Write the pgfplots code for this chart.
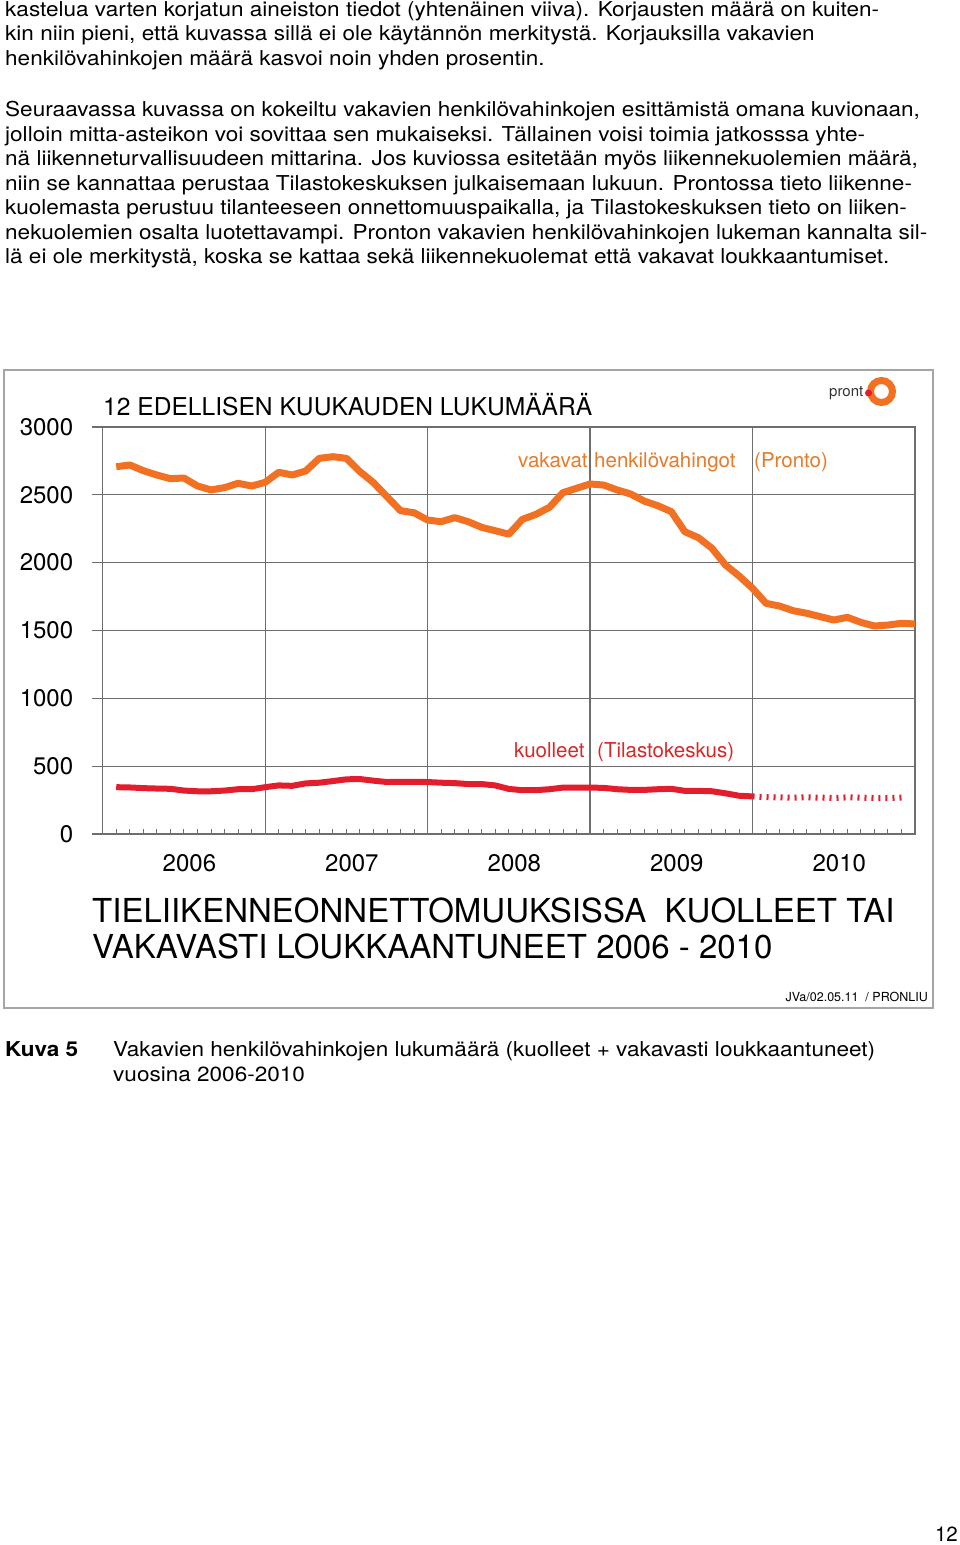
\documentclass[border=0pt]{standalone}
\usepackage{fontspec}
\setmainfont{TeX Gyre Heros}
\newfontfamily\bodyfont[FakeStretch=1.10]{TeX Gyre Heros}
\usepackage{pgfplots}
\pgfplotsset{compat=1.18}
\definecolor{orangeL}{RGB}{241,112,34}
\definecolor{orangeT}{RGB}{232,122,40}
\definecolor{redL}{RGB}{226,30,44}
\definecolor{redT}{RGB}{220,38,38}
\definecolor{gridc}{RGB}{110,110,110}
\definecolor{boxc}{RGB}{165,165,165}
\newcommand{\fs}[1]{\fontsize{#1}{#1}\selectfont}

\pgfplotstableread{
m v
1 2707
2 2720
3 2678
4 2646
5 2619
6 2624
7 2565
8 2536
9 2553
10 2585
11 2565
12 2592
13 2666
14 2646
15 2676
16 2769
17 2781
18 2769
19 2671
20 2590
21 2486
22 2383
23 2368
24 2314
25 2302
26 2332
27 2302
28 2260
29 2235
30 2210
31 2319
32 2356
33 2408
34 2516
35 2548
36 2580
37 2572
38 2536
39 2506
40 2454
41 2420
42 2376
43 2228
44 2184
45 2106
46 1983
47 1902
48 1811
49 1700
50 1680
51 1646
52 1627
53 1602
54 1577
55 1597
56 1560
57 1533
58 1540
59 1553
60 1548
}\pronto

\pgfplotstableread{
m v
1 345
2 343
3 338
4 335
5 333
6 320
7 315
8 315
9 320
10 330
11 330
12 345
13 358
14 355
15 373
16 378
17 390
18 403
19 405
20 393
21 383
22 385
23 385
24 383
25 378
26 375
27 368
28 368
29 358
30 332
31 323
32 323
33 330
34 342
35 342
36 342
37 340
38 330
39 325
40 325
41 330
42 333
43 318
44 318
45 315
46 300
47 282
48 277
}\kuolleet

\pgfplotstableread{
m v
48 277
49 272
50 270
51 268
52 270
53 268
54 265
55 270
56 268
57 265
58 265
59 268
}\kuolleetprel

\begin{document}
\begin{tikzpicture}[x=1pt,y=1pt]
\path[use as bounding box, fill=white] (0,0) rectangle (960,1545);
\coordinate (A) at (102.7,711);
\begin{scope}[shift={(0,1545)}, yscale=-1]
\begin{scope}[every node/.style={anchor=base west, inner sep=0pt, font=\bodyfont\fs{20.5}}]
\node at (5,16.7) {kastelua varten korjatun aineiston tiedot (yhtenäinen viiva). Korjausten määrä on kuiten-};
\node at (5,41) {kin niin pieni, että kuvassa sillä ei ole käytännön merkitystä. Korjauksilla vakavien};
\node at (5,65.3) {henkilövahinkojen määrä kasvoi noin yhden prosentin.};
\node at (5,116.7) {Seuraavassa kuvassa on kokeiltu vakavien henkilövahinkojen esittämistä omana kuvionaan,};
\node at (5,141.2) {jolloin mitta-asteikon voi sovittaa sen mukaiseksi. Tällainen voisi toimia jatkosssa yhte-};
\node at (5,165.7) {nä liikenneturvallisuudeen mittarina. Jos kuviossa esitetään myös liikennekuolemien määrä,};
\node at (5,190.2) {niin se kannattaa perustaa Tilastokeskuksen julkaisemaan lukuun. Prontossa tieto liikenne-};
\node at (5,214.7) {kuolemasta perustuu tilanteeseen onnettomuuspaikalla, ja Tilastokeskuksen tieto on liiken-};
\node at (5,239.2) {nekuolemien osalta luotettavampi. Pronton vakavien henkilövahinkojen lukeman kannalta sil-};
\node at (5,263.7) {lä ei ole merkitystä, koska se kattaa sekä liikennekuolemat että vakavat loukkaantumiset.};
\node[font=\bodyfont\fs{20.5}\bfseries] at (5,1056.7) {Kuva 5};
\node at (113,1056.7) {Vakavien henkilövahinkojen lukumäärä (kuolleet + vakavasti loukkaantuneet)};
\node at (113,1081.5) {vuosina 2006-2010};
\end{scope}
\begin{scope}[every node/.style={anchor=base west, inner sep=0pt, font=\fs{20.5}}]
\node[font=\fs{24.6}] at (103,416) {12 EDELLISEN KUUKAUDEN LUKUMÄÄRÄ};
\node[font=\fs{33}] at (92,922.3) {TIELIIKENNEONNETTOMUUKSISSA\ \ KUOLLEET TAI};
\node[font=\fs{33}] at (92,959) {VAKAVASTI LOUKKAANTUNEET 2006 - 2010};
\node[text=orangeT] at (518,468) {vakavat};
\node[text=orangeT] at (594,468) {henkilövahingot};
\node[text=orangeT] at (754,468) {(Pronto)};
\node[text=redT] at (514,758) {kuolleet};
\node[text=redT] at (597,758) {(Tilastokeskus)};
\node[font=\fs{15}, text=black!80] at (829,397) {pront};
\node[anchor=base east, font=\fs{12.5}] at (928,1002) {JVa/02.05.11\ \ / PRONLIU};
\node[anchor=base east] at (958,1542) {12};
\end{scope}
\draw[boxc, line width=1.5pt] (4,370) rectangle (933,1008);
\draw[orangeL, line width=7pt] (881.5,391.5) circle (11);
\fill[redL] (868.5,393) circle (3.5);
\end{scope}

\begin{axis}[at={(A)}, anchor=south west, scale only axis,
  width=812.3pt, height=407pt, xmin=0, xmax=60, ymin=0, ymax=3000,
  axis x line=none, axis y line=left, axis line style={-, gridc, line width=1.2pt},
  ytick={0,500,...,3000}, ymajorgrids, major grid style={gridc, line width=1.2pt},
  tick align=outside, major tick length=11pt, tick style={gridc, line width=1.2pt},
  yticklabel style={font=\fs{24}, xshift=-15pt},
  /pgf/number format/assume math mode=true, /pgf/number format/1000 sep={}]
\addplot[draw=none] coordinates {(0,0)};
\end{axis}

\begin{axis}[at={(A)}, anchor=south west, scale only axis,
  width=812.3pt, height=407pt, xmin=0, xmax=60, ymin=0, ymax=3000,
  axis line style={gridc, line width=1.2pt},
  ytick=\empty, xtick={0,...,60}, xtick pos=bottom,
  tick align=inside, major tick length=5pt, tick style={gridc, line width=1pt},
  xticklabels={,,,,,,2006,,,,,,,,,,,,2007,,,,,,,,,,,,2008,,,,,,,,,,,,2009,,,,,,,,,,,,2010,,,,,,},
  xticklabel style={font=\fs{24}, xshift=5.5pt, yshift=-17pt},
  minor xtick={12,24,36,48}, xminorgrids, minor grid style={gridc, line width=1.2pt},
  minor tick length=0pt]
\addplot[orangeL, line width=7pt, line join=round] table[x=m, y=v] {\pronto};
\addplot[redL, line width=6pt, line join=round] table[x=m, y=v] {\kuolleet};
\addplot[redL, line width=6pt, dash pattern=on 2pt off 5pt] table[x=m, y=v] {\kuolleetprel};
\end{axis}
\end{tikzpicture}
\end{document}
